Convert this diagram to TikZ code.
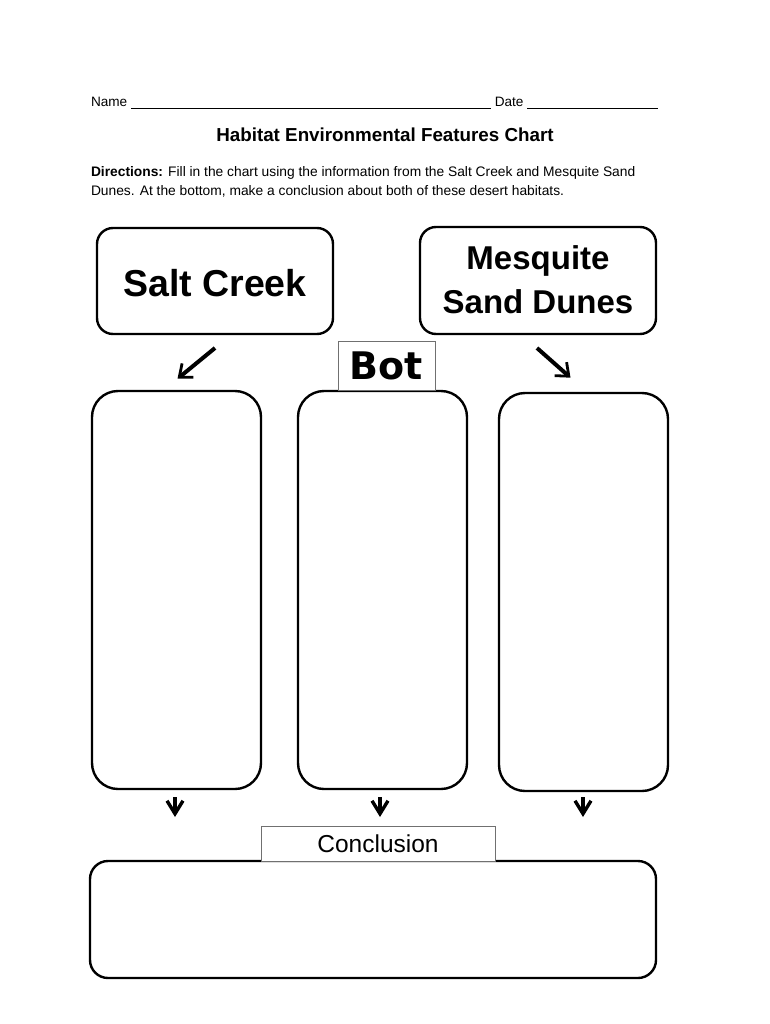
\documentclass[tikz,border=0pt]{standalone}
\usepackage{fontspec}
\setmainfont{Liberation Sans}
\newfontfamily\botfont{DejaVu Sans}[BoldFont={DejaVu Sans Bold}]
\usetikzlibrary{positioning,arrows.meta,calc}
\definecolor{hbink}{HTML}{000000}
\definecolor{hbgray}{HTML}{707070}

\begin{document}
\begin{tikzpicture}[
  x=1pt, y=-1pt,
  every node/.style={inner sep=0pt, outer sep=0pt, text=hbink},
  bigbox/.style={draw=hbink, line width=2.4pt, rounded corners=16pt},
  column/.style={draw=hbink, line width=2.4pt, rounded corners=26pt},
  tab/.style={draw=hbgray, line width=1pt, fill=white},
  headtext/.style={font=\bfseries\fontsize{33}{44}\selectfont, align=center},
  slant/.style={-{Straight Barb[length=11pt, width=18pt, line width=2.8pt, sep=2pt]},
    line width=4pt, draw=hbink},
  drop/.style={-{Straight Barb[length=13pt, width=16pt, line width=3.4pt, sep=5pt]},
    line width=4pt, draw=hbink},
  ]
  % page frame
  \useasboundingbox (0,0) rectangle (770,1024);

  % header lines
  \node[anchor=base west, font=\fontsize{13.6}{16}\selectfont] (name) at (91,107)
    {Name \rule[-2pt]{360pt}{0.7pt} Date \rule[-2pt]{131pt}{0.7pt}};
  \node[anchor=base, font=\bfseries\fontsize{18.8}{22}\selectfont] (title) at (385,142)
    {Habitat Environmental Features Chart};
  \node[anchor=base west, font=\fontsize{13.8}{19}\selectfont, align=left] (dirs) at (91,196)
    {\textbf{Directions:} Fill in the chart using the information from the Salt Creek and Mesquite Sand\\
     Dunes. At the bottom, make a conclusion about both of these desert habitats.};

  % the two habitats
  \draw[bigbox] (97,228) rectangle (333,334);
  \node[headtext, font=\bfseries\fontsize{37.5}{44}\selectfont] (salt) at (215,283) {Salt Creek};
  \draw[bigbox] (420,227) rectangle (656,334);
  \node[headtext] (mesq) at (538,280) {Mesquite\\Sand Dunes};

  % three columns
  \draw[column] (92,391) rectangle (261,789);
  \draw[column] (298,391) rectangle (467,789);
  \draw[column] (499,393) rectangle (668,791);
  \coordinate (colA) at (176,380);
  \coordinate (colC) at (572,379);

  % middle tab
  \node[tab, minimum width=97pt, minimum height=49pt, font=\botfont\bfseries\fontsize{38}{40}\selectfont]
    (bot) at (386.5,366) {Bot};

  % slanted arrows from the habitat boxes
  \coordinate (saltfoot) at (215,348);
  \coordinate (mesqfoot) at (537,348);
  \draw[slant] (saltfoot) -- (colA);
  \draw[slant] (mesqfoot) -- (colC);

  % small arrows down to the conclusion
  \foreach \px/\nm in {175/a, 380/b, 583/c} {
    \coordinate (top\nm) at (\px,797);
    \coordinate (tip\nm) at (\px,822);
    \draw[drop] (top\nm) -- (tip\nm);
  }

  % conclusion
  \draw[bigbox, rounded corners=18pt] (90,861) rectangle (656,978);
  \node[tab, minimum width=234pt, minimum height=35pt, font=\fontsize{24.5}{28}\selectfont]
    (concl) at (378,843.5) {Conclusion};
\end{tikzpicture}
\end{document}
